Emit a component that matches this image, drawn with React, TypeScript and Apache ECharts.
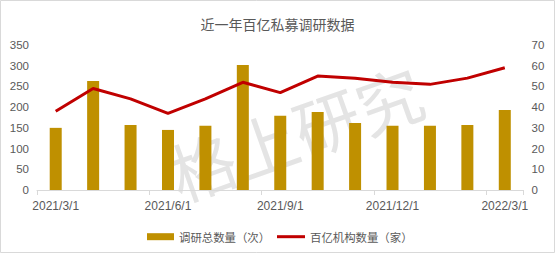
import React, { useEffect, useRef } from "react";
import * as echarts from "echarts";

const categories = [
  "2021/3/1", "2021/4/1", "2021/5/1", "2021/6/1", "2021/7/1", "2021/8/1", "2021/9/1",
  "2021/10/1", "2021/11/1", "2021/12/1", "2022/1/1", "2022/2/1", "2022/3/1",
];
const researchCount = [150, 263, 157, 145, 155, 302, 179, 188, 162, 155, 155, 157, 193];
const institutionCount = [38, 49, 44, 37, 44, 52, 47, 55, 54, 52, 51, 54, 59];
const leftTicks = { min: 0, max: 350, interval: 50 };
const rightTicks = { min: 0, max: 70, interval: 10 };

const FONT = "'Liberation Sans', 'Noto Sans CJK SC', sans-serif";
const CJK = "'Noto Sans CJK SC', 'Liberation Sans', sans-serif";

export default function App() {
  const ref = useRef<HTMLDivElement>(null);
  useEffect(() => {
    if (!ref.current) return;
    const chart = echarts.init(ref.current, undefined, { renderer: "svg" });
    const legendText = { fontSize: 11.4, color: "#595959", fontFamily: CJK };
    chart.setOption({
      animation: false,
      backgroundColor: "#ffffff",
      title: {
        text: "近一年百亿私募调研数据",
        left: "center",
        top: 12,
        textStyle: { fontSize: 14, fontWeight: "normal", color: "#595959", fontFamily: CJK },
      },
      graphic: [
        {
          type: "rect",
          shape: { x: 0.5, y: 0.5, width: 554, height: 252 },
          style: { fill: "none", stroke: "#d9d9d9", lineWidth: 1 },
          z: 0,
        },
        {
          type: "text",
          x: 295,
          y: 131,
          rotation: (19.5 * Math.PI) / 180,
          style: {
            text: "格上研究",
            fontSize: 66,
            fill: "#e4e4e4",
            align: "center",
            verticalAlign: "middle",
            fontFamily: CJK,
          },
          z: 0,
        },
      ],
      legend: [
        {
          left: 142,
          top: 226,
          itemWidth: 27,
          itemHeight: 7,
          textStyle: legendText,
          data: [{ name: "调研总数量（次）", icon: "rect" }],
        },
        {
          left: 272,
          top: 226,
          itemWidth: 28,
          itemHeight: 3,
          textStyle: legendText,
          data: [{ name: "百亿机构数量（家）", icon: "rect" }],
        },
      ],
      grid: { left: 37, right: 31.5, top: 45, bottom: 63, containLabel: false },
      xAxis: {
        type: "category",
        data: categories,
        boundaryGap: true,
        axisLine: { show: true, lineStyle: { color: "#d9d9d9", width: 1 } },
        axisTick: { show: true, interval: 2, length: 5, lineStyle: { color: "#d9d9d9" } },
        axisLabel: { interval: 2, fontSize: 12, color: "#595959", margin: 10, fontFamily: FONT },
      },
      yAxis: [
        {
          type: "value",
          ...leftTicks,
          splitLine: { show: false },
          axisLine: { show: false },
          axisTick: { show: false },
          axisLabel: { fontSize: 11.5, color: "#595959", margin: 8, fontFamily: FONT },
        },
        {
          type: "value",
          ...rightTicks,
          position: "right",
          splitLine: { show: false },
          axisLine: { show: false },
          axisTick: { show: false },
          axisLabel: { fontSize: 11.5, color: "#595959", margin: 8, fontFamily: FONT },
        },
      ],
      series: [
        {
          name: "调研总数量（次）",
          type: "bar",
          data: researchCount,
          barWidth: 12,
          itemStyle: { color: "#BF9000" },
          yAxisIndex: 0,
        },
        {
          name: "百亿机构数量（家）",
          type: "line",
          data: institutionCount,
          yAxisIndex: 1,
          symbol: "none",
          lineStyle: { color: "#C00000", width: 3 },
          itemStyle: { color: "#C00000" },
        },
      ],
    });
    return () => chart.dispose();
  }, []);
  return (
    <div
      ref={ref}
      style={{ position: "absolute", left: 0, top: 0, width: 555, height: 253 }}
    />
  );
}
